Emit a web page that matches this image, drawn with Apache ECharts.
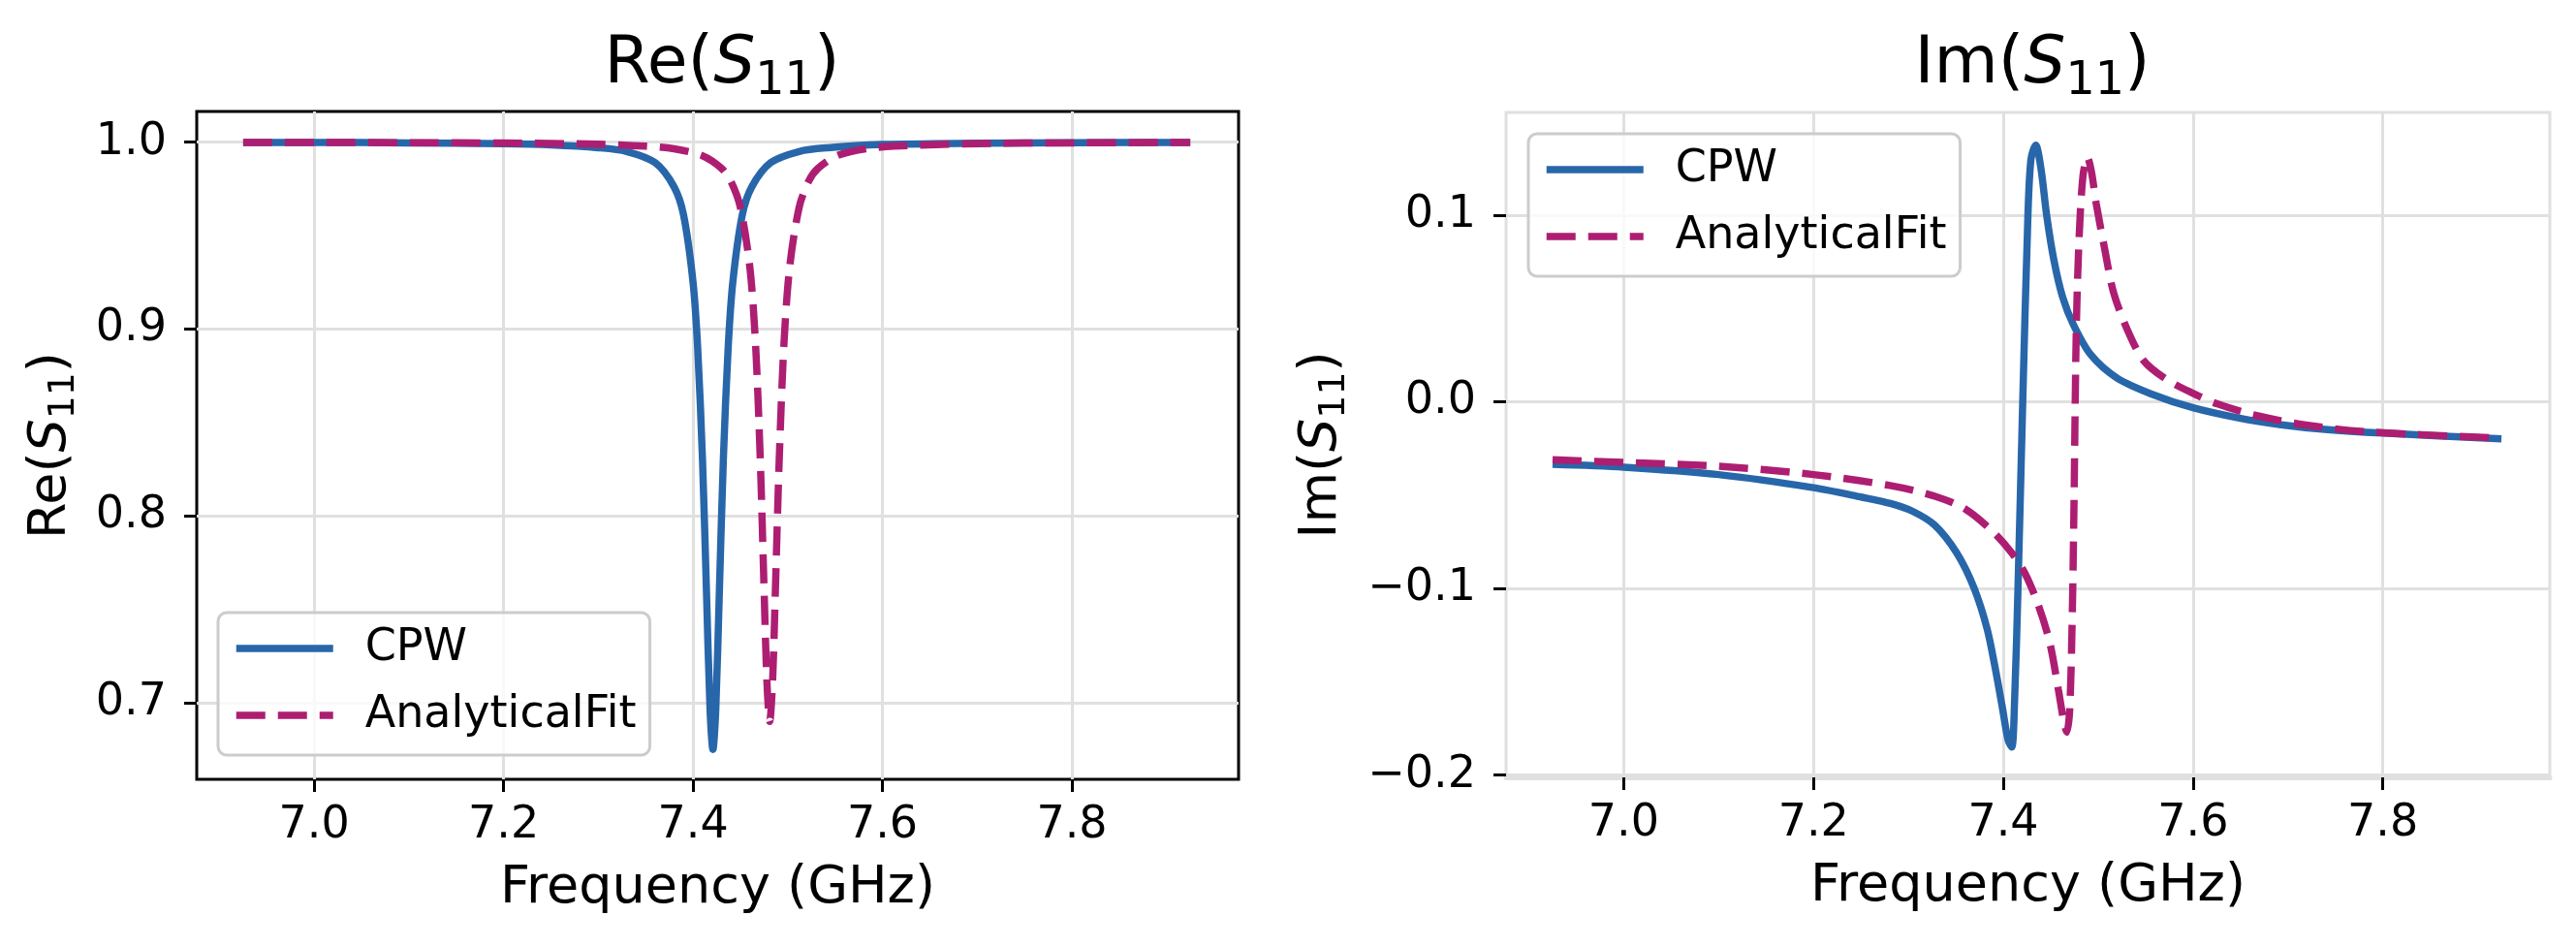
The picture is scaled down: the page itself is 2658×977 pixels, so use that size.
<!DOCTYPE html>
<html>
<head>
<meta charset="utf-8">
<script src="https://cdn.jsdelivr.net/npm/echarts@6/dist/echarts.min.js"></script>
<style>
  html, body { margin: 0; padding: 0; background: #fff; }
  #chart { width: 2658px; height: 977px; }
</style>
</head>
<body>
<div id="chart"></div>
<script>
// tick positions
const freqTicks = [7.0, 7.2, 7.4, 7.6, 7.8];
const reTicks = [0.7, 0.8, 0.9, 1.0];
const imTicks = [-0.2, -0.1, 0.0, 0.1];
const seriesNames = ['CPW', 'AnalyticalFit'];

// Re(S11), CPW
const reFreqCpw = [6.925, 7.0, 7.1, 7.2, 7.25, 7.3, 7.33, 7.36, 7.38, 7.39, 7.40, 7.405, 7.41, 7.414, 7.418, 7.421,
  7.424, 7.428, 7.432, 7.437, 7.442, 7.452, 7.462, 7.482, 7.512, 7.542, 7.6, 7.7, 7.8, 7.925];
const reCpw = [0.9998, 0.9998, 0.9996, 0.9991, 0.9985, 0.997, 0.995, 0.989, 0.976, 0.961, 0.925, 0.889, 0.83, 0.763, 0.696, 0.675,
  0.696, 0.763, 0.83, 0.889, 0.925, 0.961, 0.976, 0.989, 0.995, 0.997, 0.9987, 0.9994, 0.9997, 0.9998];

// Re(S11), analytical fit
const reFreqFit = [6.925, 7.0, 7.1, 7.2, 7.3, 7.35, 7.38, 7.41, 7.43, 7.44, 7.45, 7.46, 7.466, 7.471, 7.475, 7.478, 7.481,
  7.484, 7.487, 7.491, 7.496, 7.502, 7.512, 7.522, 7.532, 7.552, 7.582, 7.612, 7.7, 7.8, 7.925];
const reFit = [0.9998, 0.9998, 0.9997, 0.9995, 0.9989, 0.9978, 0.9964, 0.9927, 0.986, 0.979, 0.965, 0.933, 0.892, 0.83, 0.761, 0.7115, 0.69,
  0.7115, 0.761, 0.83, 0.892, 0.933, 0.965, 0.979, 0.986, 0.9927, 0.9964, 0.9978, 0.9992, 0.9996, 0.9998];

// Im(S11), CPW
const imFreqCpw = [6.925, 7.0, 7.1, 7.2, 7.25, 7.282, 7.305, 7.328, 7.351, 7.369, 7.383, 7.392, 7.399, 7.405, 7.409, 7.412,
  7.4155, 7.4205, 7.426, 7.4292, 7.4342, 7.4397, 7.4457, 7.4534, 7.4626, 7.474, 7.4922, 7.5196, 7.556, 7.6, 7.6475, 7.693, 7.739, 7.8, 7.925];
const imCpw = [-0.0335, -0.035, -0.039, -0.046, -0.051, -0.0546, -0.0588, -0.0662, -0.081, -0.0995, -0.1217, -0.144, -0.1637, -0.181, -0.185, -0.159,
  -0.1, 0.0, 0.1, 0.13, 0.1375, 0.125, 0.1, 0.0758, 0.056, 0.0412, 0.0252, 0.0128, 0.0042, -0.0032, -0.0086, -0.0123, -0.0148, -0.0168, -0.0198];

// Im(S11), analytical fit
const imFreqFit = [6.925, 7.0, 7.1, 7.2, 7.282, 7.328, 7.36, 7.39, 7.409, 7.423, 7.437, 7.449, 7.458, 7.464, 7.467, 7.470,
  7.4725, 7.4744, 7.477, 7.480, 7.484, 7.4886, 7.493, 7.498, 7.507, 7.516, 7.53, 7.548, 7.571, 7.598, 7.626, 7.667, 7.717, 7.781, 7.925];
const imFit = [-0.031, -0.0325, -0.0345, -0.039, -0.045, -0.0506, -0.0575, -0.07, -0.081, -0.092, -0.109, -0.129, -0.154, -0.172, -0.177, -0.165,
  -0.12, -0.06, 0.04, 0.089, 0.121, 0.131, 0.123, 0.106, 0.0815, 0.059, 0.0395, 0.022, 0.0123, 0.005, -0.0012, -0.0074, -0.0123, -0.016, -0.0195];

const pairs = (xs, ys) => xs.map((x, i) => [x, ys[i]]);

const FONT = 'DejaVu Sans';
const BLUE = '#2866aa';
const MAGENTA = '#ad1e72';
const GRID_GRAY = '#e0e0e0';

const fmt = v => v.toFixed(1).replace('-', '\u2212');

const mathRich = (size) => ({
  a: { fontFamily: FONT, fontSize: size, fontWeight: 'normal', color: '#000', lineHeight: size * 1.2 },
  s: { fontFamily: FONT, fontSize: size, fontWeight: 'normal', fontStyle: 'italic', color: '#000', lineHeight: size * 1.2 },
  b: { fontFamily: FONT, fontSize: size * 0.7, fontWeight: 'normal', color: '#000', lineHeight: size * 0.5, verticalAlign: 'bottom' }
});

const chart = echarts.init(document.getElementById('chart'));

const xAxisBase = (gridIndex, frameColor) => ({
  type: 'value',
  gridIndex,
  min: 6.876,
  max: 7.976,
  name: 'Frequency (GHz)',
  nameLocation: 'middle',
  nameGap: 86,
  nameTextStyle: { fontFamily: FONT, fontSize: 54, color: '#000' },
  axisLine: { show: gridIndex === 1, onZero: false, lineStyle: { color: frameColor, width: 5 } },
  axisTick: { show: true, length: 13, customValues: freqTicks, lineStyle: { color: '#000', width: 3 } },
  axisLabel: { customValues: freqTicks, formatter: fmt, margin: 25, fontFamily: FONT, fontSize: 46, color: '#000' },
  splitLine: { show: true, lineStyle: { color: GRID_GRAY, width: 3 } }
});

const yAxisBase = (gridIndex, min, max, ticks, name, nameGap) => ({
  type: 'value',
  gridIndex,
  min,
  max,
  name,
  nameLocation: 'middle',
  nameRotate: 90,
  nameGap,
  nameTextStyle: { rich: mathRich(54) },
  axisLine: { show: false, onZero: false },
  axisTick: { show: true, length: 13, customValues: ticks, lineStyle: { color: '#000', width: 3 } },
  axisLabel: { customValues: ticks, formatter: fmt, margin: 31, fontFamily: FONT, fontSize: 46, color: '#000' },
  splitLine: { show: true, lineStyle: { color: GRID_GRAY, width: 3 } }
});

const legendBase = (left, top) => ({
  orient: 'vertical',
  left, top,
  data: seriesNames,
  selectedMode: false,
  itemWidth: 100,
  itemHeight: 2,
  itemGap: 19,
  padding: [12, 14, 16, 15],
  backgroundColor: 'rgba(255,255,255,0.8)',
  borderColor: '#cccccc',
  borderWidth: 3,
  borderRadius: 9,
  itemStyle: { opacity: 0 },
  lineStyle: { width: 7.5 },
  textStyle: { fontFamily: FONT, fontSize: 46, color: '#000', lineHeight: 50, padding: [0, 0, 0, 28] }
});

const lineSeries = (name, data, color, dashed, idx) => ({
  name,
  type: 'line',
  xAxisIndex: idx,
  yAxisIndex: idx,
  data,
  smooth: 0.3,
  symbol: 'none',
  showSymbol: false,
  lineStyle: dashed
    ? { color, width: 7.5, type: [30, 13], cap: 'butt' }
    : { color, width: 7.5 },
  itemStyle: { color },
  z: dashed ? 3 : 2
});

chart.setOption({
  animation: false,
  backgroundColor: '#fff',
  title: [
    { text: '{a|Re(}{s|S}{b|11}{a|)}', left: 740, top: 22, textAlign: 'center', textStyle: { fontWeight: 'normal', rich: mathRich(68) } },
    { text: '{a|Im(}{s|S}{b|11}{a|)}', left: 2092, top: 22, textAlign: 'center', textStyle: { fontWeight: 'normal', rich: mathRich(68) } }
  ],
  grid: [
    { left: 203, top: 115, width: 1075, height: 689, show: true, borderColor: '#000', borderWidth: 3, backgroundColor: 'transparent' },
    { left: 1554, top: 116, width: 1077, height: 686, show: true, borderColor: GRID_GRAY, borderWidth: 3, backgroundColor: 'transparent' }
  ],
  legend: [legendBase(225, 632), legendBase(1577, 138)],
  xAxis: [xAxisBase(0, '#000'), xAxisBase(1, GRID_GRAY)],
  yAxis: [
    yAxisBase(0, 0.659, 1.0164, reTicks, '{a|Re(}{s|S}{b|11}{a|)}', 118),
    yAxisBase(1, -0.2012, 0.155, imTicks, '{a|Im(}{s|S}{b|11}{a|)}', 158)
  ],
  series: [
    lineSeries('CPW', pairs(reFreqCpw, reCpw), BLUE, false, 0),
    lineSeries('AnalyticalFit', pairs(reFreqFit, reFit), MAGENTA, true, 0),
    lineSeries('CPW', pairs(imFreqCpw, imCpw), BLUE, false, 1),
    lineSeries('AnalyticalFit', pairs(imFreqFit, imFit), MAGENTA, true, 1)
  ]
});
</script>
</body>
</html>
